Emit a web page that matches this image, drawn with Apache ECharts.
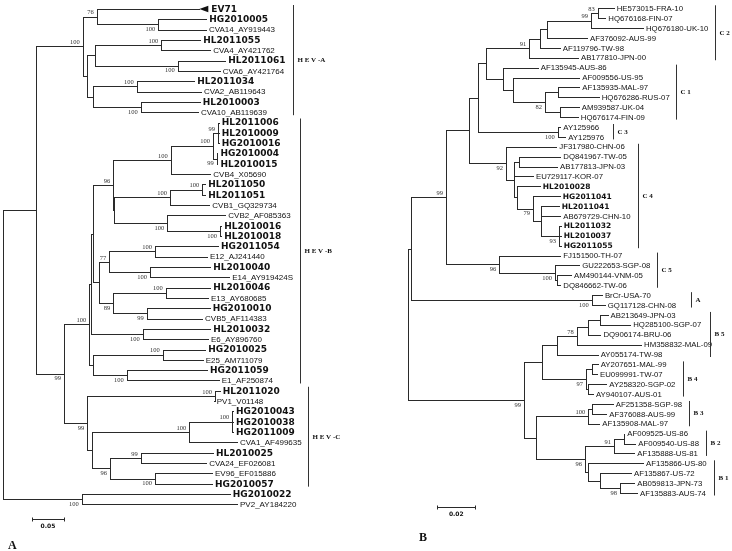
<!DOCTYPE html>
<html><head><meta charset="utf-8">
<script src="https://cdn.jsdelivr.net/npm/echarts@6/dist/echarts.min.js"></script>
<style>html,body{margin:0;padding:0;background:#fff}#c{width:732px;height:551px}</style>
</head><body><div id="c"></div>
<script>
// ---------- Panel A (EV/HEV tree) ----------
const leavesA = ["EV71","HG2010005","CVA14_AY919443","HL2011055","CVA4_AY421762","HL2011061","CVA6_AY421764","HL2011034","CVA2_AB119643","HL2010003","CVA10_AB119639","HL2011006","HL2010009","HG2010016","HG2010004","HL2010015","CVB4_X05690","HL2011050","HL2011051","CVB1_GQ329734","CVB2_AF085363","HL2010016","HL2010018","HG2011054","E12_AJ241440","HL2010040","E14_AY919424S","HL2010046","E13_AY680685","HG2010010","CVB5_AF114383","HL2010032","E6_AY896760","HG2010025","E25_AM711079","HG2011059","E1_AF250874","HL2011020","PV1_V01148","HG2010043","HG2010038","HG2011009","CVA1_AF499635","HL2010025","CVA24_EF026081","EV96_EF015886","HG2010057","HG2010022","PV2_AY184220"];
// tip depth (substitutions/site) of each leaf
const tipsA = [0.3203,0.3172,0.3167,0.3078,0.3234,0.3469,0.3381,0.2984,0.3089,0.3069,0.3042,
  0.3366,0.3366,0.3366,0.3345,0.3345,0.3234,0.3156,0.3156,0.3219,0.3469,0.3405,0.3405,0.3355,0.3183,0.3234,0.3531,0.3234,0.3198,0.3225,0.3105,0.3234,0.3198,0.3156,0.3116,0.3183,0.3366,
  0.3381,0.3288,0.3589,0.3589,0.3589,0.3652,0.3277,0.3172,0.3261,0.3261,0.3538,0.3652];
// internal nodes: [depth, bootstrap, children]  (number = leaf index, "nK" = node K)
const nodesA = [
  [0.2422,"100",[1,2]],[0.1459,"76",[0,"n0"]],[0.2469,"100",[3,4]],[0.2725,"100",[5,6]],
  [0.1433,"",["n2","n3"]],[0.2084,"100",[7,8]],[0.2147,"100",[9,10]],[0.1406,"",["n5","n6"]],
  [0.1313,"",["n4","n7"]],[0.1241,"100",["n1","n8"]],
  [0.3355,"99",[11,12,13]],[0.3334,"99",[14,15]],[0.3277,"100",["n10","n11"]],[0.2616,"100",["n12",16]],
  [0.3109,"100",[17,18]],[0.2605,"100",["n14",19]],[0.3386,"100",[21,22]],[0.2563,"100",[20,"n16"]],
  [0.1730,"",["n15","n17"]],[0.1719,"96",["n13","n18"]],[0.2370,"100",[23,24]],[0.2292,"100",[25,26]],
  [0.1656,"77",["n20","n21"]],[0.2538,"100",[27,28]],[0.2241,"99",[29,30]],[0.1719,"89",["n23","n24"]],
  [0.1500,"",["n22","n25"]],[0.1406,"",["n19","n26"]],[0.2178,"100",[31,32]],[0.1366,"",["n27","n28"]],
  [0.2491,"100",[33,34]],[0.1928,"100",[35,36]],[0.1406,"",["n30","n31"]],[0.1344,"100",["n29","n32"]],
  [0.3308,"100",[37,38]],[0.3578,"100",[39,40,41]],[0.2906,"100",["n35",42]],[0.2147,"99",[43,44]],
  [0.2370,"100",[45,46]],[0.1667,"96",["n37","n38"]],[0.1381,"",["n36","n39"]],[0.1313,"99",["n34","n40"]],
  [0.0948,"99",["n33","n41"]],[0.0511,"",["n9","n42"]],[0.1225,"100",[47,48]],[0,"",["n43","n44"]]
];
const collapsedA = {0: 0.3063};           // EV71 collapsed clade starts here
const cladesA = [["H E V -A",0,10],["H E V -B",11,36],["H E V -C",37,46]];
const scaleA = 0.05;

// ---------- Panel B (EV71 genotypes) ----------
const leavesB = ["HE573015-FRA-10","HQ676168-FIN-07","HQ676180-UK-10","AF376092-AUS-99","AF119796-TW-98","AB177810-JPN-00","AF135945-AUS-86","AF009556-US-95","AF135935-MAL-97","HQ676286-RUS-07","AM939587-UK-04","HQ676174-FIN-09","AY125966","AY125976","JF317980-CHN-06","DQ841967-TW-05","AB177813-JPN-03","EU729117-KOR-07","HL2010028","HG2011041","HL2011041","AB679729-CHN-10","HL2011032","HL2010037","HG2011055","FJ151500-TH-07","GU222653-SGP-08","AM490144-VNM-05","DQ846662-TW-06","BrCr-USA-70","GQ117128-CHN-08","AB213649-JPN-03","HQ285100-SGP-07","DQ906174-BRU-06","HM358832-MAL-09","AY055174-TW-98","AY207651-MAL-99","EU099991-TW-07","AY258320-SGP-02","AY940107-AUS-01","AF251358-SGP-98","AF376088-AUS-99","AF135908-MAL-97","AF009525-US-86","AF009540-US-88","AF135888-US-81","AF135866-US-80","AF135867-US-72","AB059813-JPN-73","AF135883-AUS-74"];
const tipsB = [0.1081,0.1037,0.1235,0.0941,0.0797,0.0893,0.0681,0.0900,0.0900,0.1002,
  0.0897,0.0892,0.0800,0.0826,0.0779,0.0800,0.0783,0.0656,0.0692,0.0797,
  0.0792,0.0800,0.0802,0.0802,0.0802,0.0800,0.0900,0.0856,0.0800,0.1019,
  0.1034,0.1049,0.1168,0.1011,0.1225,0.0997,0.0997,0.0993,0.1042,0.0972,
  0.1076,0.1042,0.1005,0.1137,0.1195,0.1189,0.1235,0.1172,0.1189,0.1204];
const nodesB = [
  [0.0997,"83",[0,1]],[0.0962,"99",["n0",2]],[0.0728,"",["n1",3]],[0.0693,"",["n2",4]],[0.0637,"91",["n3",5]],
  [0.0786,"",[8,9]],[0.0798,"",[10,11]],[0.0719,"82",["n5","n6"]],[0.0553,"",[7,"n7"]],[0.0500,"",[6,"n8"]],
  [0.0409,"",["n4","n9"]],[0.0786,"100",[12,13]],[0.0368,"",["n10","n11"]],
  [0.0585,"",[15,16]],[0.0556,"",["n13",17,"n15"]],[0.0572,"",[18,"n16"]],[0.0656,"79",[19,"n17"]],
  [0.0698,"",[20,21,"n18"]],[0.0793,"93",[22,23,24]],[0.0514,"92",[14,"n14"]],[0.0321,"",["n12","n19"]],
  [0.0784,"",[27,28]],[0.0772,"100",[26,"n21"]],[0.0479,"96",[25,"n22"]],[0.0198,"99",["n20","n23"]],
  [0.0965,"100",[29,30]],[0.0014,"",["n24","n25"]],
  [0.1009,"",[31,32]],[0.0947,"",["n27",33]],[0.0886,"78",["n28",34]],[0.0781,"",["n29",35]],
  [0.0965,"",[36,37]],[0.0947,"",[38,39]],[0.0935,"97",["n31","n32"]],[0.0702,"",["n30","n33"]],
  [0.0965,"",[40,41]],[0.0947,"100",["n35",42]],[0.1135,"",[43,44]],[0.1083,"91",["n37",45]],
  [0.1114,"98",[48,49]],[0.1009,"",[47,"n39"]],[0.0947,"",[46,"n40"]],[0.0930,"96",["n38","n41"]],
  [0.0672,"",["n36","n42"]],[0.0609,"99",["n34","n43"]],[0,"",["n26","n44"]]
];
const collapsedB = {};
const cladesB = [["C 2",0,5],["C 1",6,11],["C 3",12,13],["C 4",14,24],["C 5",25,28],["A",29,30],["B 5",31,35],["B 4",36,39],["B 3",40,42],["B 2",43,45],["B 1",46,49]];
const scaleB = 0.02;

// ---------- layout / style (not data) ----------
const LINE = '#2a2a2a';
const layoutA = {barX:[0.4531,0.4636,0.4766], scaleX:0.0448, scaleY:49.42, boldFont:"bold 9px 'DejaVu Sans'", normFont:"8px 'Liberation Sans'", barTop:4, barBot:3};
const layoutB = {barX:[0.1614,0.1409,0.1079,0.1207,0.1307,0.1486,0.1588,0.1447,0.1479,0.1566,0.1609], scaleX:0.01526, scaleY:50.45, boldFont:"bold 7.5px 'DejaVu Sans'", normFont:"7.8px 'Liberation Sans'", barTop:3, barBot:2.5};

function isBold(name){ return /^H[LG]20/.test(name) || name === 'EV71'; }

function buildPanel(leaves, tips, nodes, collapsed, clades, scale, lay){
  const els = [];
  const nodeY = {};
  const parentOf = {};
  nodes.forEach((n,k)=>n[2].forEach(c=>{ if(typeof c!=='number') parentOf[+c.slice(1)] = k; }));
  const getX = c => typeof c === 'number' ? tips[c] : nodes[+c.slice(1)][0];
  const getY = c => {
    if (typeof c === 'number') return c;
    const k = +c.slice(1);
    if (nodeY[k] === undefined){ const ch = nodes[k][2]; nodeY[k] = (getY(ch[0]) + getY(ch[ch.length-1]))/2; }
    return nodeY[k];
  };
  nodes.forEach((n,k)=>{
    const ch = n[2], x = n[0];
    els.push({t:'v', x, y1:getY(ch[0]), y2:getY(ch[ch.length-1])});
    ch.forEach(c=>{
      let x2 = getX(c);
      if (typeof c === 'number' && collapsed[c] !== undefined) x2 = collapsed[c];
      els.push({t:'h', x1:x, x2, y:getY(c)});
    });
    if (n[1]) {
      const p = parentOf[k];
      const yk = getY('n'+k);
      const above = p === undefined ? true : yk <= getY('n'+p);
      els.push({t:'boot', x, y:yk, text:n[1], above});
    }
  });
  Object.keys(collapsed).forEach(i=>{ els.push({t:'tri', x1:collapsed[i], x2:tips[i], y:+i}); });
  leaves.forEach((name,i)=>{
    els.push({t:'leaf', x:tips[i], y:i, text:name, font: isBold(name) ? lay.boldFont : lay.normFont});
  });
  clades.forEach((c,i)=>{
    els.push({t:'bar', x:lay.barX[i], y1:c[1], y2:c[2], text:c[0], top:lay.barTop, bot:lay.barBot});
  });
  els.push({t:'scale', x1:lay.scaleX, x2:lay.scaleX + scale, y:lay.scaleY, text:String(scale)});
  return els;
}

const elsA = buildPanel(leavesA, tipsA, nodesA, collapsedA, cladesA, scaleA, layoutA);
const elsB = buildPanel(leavesB, tipsB, nodesB, collapsedB, cladesB, scaleB, layoutB);

const r = v => Math.round(v) + 0.5;
function makeRender(els){
  return function(params, api){
    const e = els[params.dataIndex];
    const P = (x,y) => api.coord([x,y]);
    const ls = {stroke:LINE, lineWidth:1, lineCap:'square'};
    if (e.t === 'v') {
      const a = P(e.x,e.y1), b = P(e.x,e.y2);
      return {type:'line', shape:{x1:r(a[0]),y1:r(a[1]),x2:r(a[0]),y2:r(b[1])}, style:ls};
    }
    if (e.t === 'h') {
      const a = P(e.x1,e.y), b = P(e.x2,e.y);
      return {type:'line', shape:{x1:r(a[0]),y1:r(a[1]),x2:r(b[0]),y2:r(a[1])}, style:ls};
    }
    if (e.t === 'boot') {
      const a = P(e.x,e.y);
      return {type:'text', x:a[0]-3, y: e.above ? a[1]-0.5 : a[1]+1.5,
        style:{text:e.text, font:"6.5px 'Liberation Serif'", fill:'#333', align:'right', verticalAlign: e.above ? 'bottom' : 'top'}};
    }
    if (e.t === 'tri') {
      const a = P(e.x1,e.y), b = P(e.x2,e.y);
      return {type:'polygon', shape:{points:[[a[0],a[1]],[b[0],a[1]-3.2],[b[0],a[1]+3.2]]}, style:{fill:'#111'}};
    }
    if (e.t === 'leaf') {
      const a = P(e.x,e.y);
      return {type:'text', x:a[0]+3, y:a[1]+0.5, style:{text:e.text, font:e.font, fill:'#111', align:'left', verticalAlign:'middle'}};
    }
    if (e.t === 'bar') {
      const a = P(e.x,e.y1), b = P(e.x,e.y2);
      const x = r(a[0]);
      return {type:'group', children:[
        {type:'line', shape:{x1:x,y1:a[1]-e.top,x2:x,y2:b[1]+e.bot}, style:{stroke:'#333', lineWidth:1}},
        {type:'text', x:x+4, y:(a[1]-e.top+b[1]+e.bot)/2, style:{text:e.text, font:"bold 7px 'Liberation Serif'", fill:'#111', align:'left', verticalAlign:'middle'}}
      ]};
    }
    if (e.t === 'scale') {
      const a = P(e.x1,e.y), b = P(e.x2,e.y);
      const y = r(a[1]);
      return {type:'group', children:[
        {type:'line', shape:{x1:r(a[0]),y1:y,x2:r(b[0]),y2:y}, style:{stroke:LINE, lineWidth:1}},
        {type:'line', shape:{x1:r(a[0]),y1:y-2,x2:r(a[0]),y2:y+2}, style:{stroke:LINE, lineWidth:1}},
        {type:'line', shape:{x1:r(b[0]),y1:y-2,x2:r(b[0]),y2:y+2}, style:{stroke:LINE, lineWidth:1}},
        {type:'text', x:(a[0]+b[0])/2, y:y+4, style:{text:e.text, font:"bold 6px 'DejaVu Sans'", fill:'#111', align:'center', verticalAlign:'top'}}
      ]};
    }
    return null;
  };
}

const chart = echarts.init(document.getElementById('c'), null, {renderer:'canvas'});
chart.setOption({
  animation:false,
  backgroundColor:'#fff',
  grid:[
    {left:3.3, top:9, width:320, height:495.3},
    {left:408.3, top:8.3, width:323, height:484.7}
  ],
  xAxis:[
    {gridIndex:0, type:'value', min:0, max:0.5, show:false},
    {gridIndex:1, type:'value', min:0, max:0.17, show:false}
  ],
  yAxis:[
    {gridIndex:0, type:'value', min:0, max:leavesA.length-1, inverse:true, show:false},
    {gridIndex:1, type:'value', min:0, max:leavesB.length-1, inverse:true, show:false}
  ],
  graphic:[
    {type:'text', left:8, top:540, style:{text:'A', font:"bold 12px 'Liberation Serif'", fill:'#111'}},
    {type:'text', left:419, top:532, style:{text:'B', font:"bold 12px 'Liberation Serif'", fill:'#111'}}
  ],
  series:[
    {type:'custom', coordinateSystem:'cartesian2d', xAxisIndex:0, yAxisIndex:0, clip:false, silent:true,
      renderItem:makeRender(elsA), data:elsA.map(()=>[0,0])},
    {type:'custom', coordinateSystem:'cartesian2d', xAxisIndex:1, yAxisIndex:1, clip:false, silent:true,
      renderItem:makeRender(elsB), data:elsB.map(()=>[0,0])}
  ]
});
</script>
</body></html>
